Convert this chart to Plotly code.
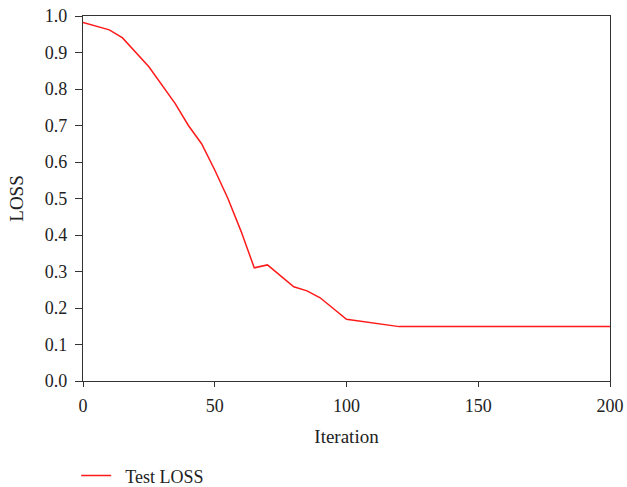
import plotly.graph_objects as go

iterations = [0, 10, 15, 25, 35, 40, 45, 50, 55, 60, 65, 70, 80, 85, 90, 100, 120, 200]
test_loss = [0.982, 0.962, 0.94, 0.861, 0.76, 0.70, 0.65, 0.578, 0.50, 0.41, 0.31, 0.318, 0.258, 0.247, 0.228, 0.169, 0.149, 0.149]

x_ticks = [0, 50, 100, 150, 200]
y_ticks = [0.0, 0.1, 0.2, 0.3, 0.4, 0.5, 0.6, 0.7, 0.8, 0.9, 1.0]

font_family = "Liberation Serif"

fig = go.Figure()
fig.add_trace(go.Scatter(
    x=iterations, y=test_loss, mode="lines", name="\u00a0\u00a0Test LOSS",
    line=dict(color="#ff1a1a", width=1.5),
))

axis_common = dict(
    showgrid=False, zeroline=False, showline=True, mirror=True,
    linecolor="#333333", linewidth=1.2,
    ticks="outside", tickcolor="#333333", tickwidth=1,
    tickfont=dict(family=font_family, size=18, color="#222222"),
)

fig.update_layout(
    width=627, height=487,
    margin=dict(l=83, r=17, t=16, b=106, autoexpand=False),
    paper_bgcolor="white", plot_bgcolor="white",
    font=dict(family=font_family, size=18, color="#222222"),
    xaxis=dict(range=[0, 200], tickvals=x_ticks, ticklen=5, ticklabelstandoff=3,
               title=dict(text="Iteration", font=dict(family=font_family, size=19), standoff=14),
               **axis_common),
    yaxis=dict(range=[0, 1], tickvals=y_ticks, tickformat=".1f", ticklen=7,
               ticklabelstandoff=4,
               title=dict(text="LOSS", font=dict(family=font_family, size=19), standoff=16),
               **axis_common),
    showlegend=True,
    legend=dict(x=-0.013, y=-0.26, xanchor="left", yanchor="middle",
                font=dict(family=font_family, size=18, color="#222222"),
                bgcolor="rgba(0,0,0,0)"),
)

fig.write_html(
    "out.html",
    config={"displayModeBar": False},
    post_script="document.body.style.margin='0';document.body.style.overflow='hidden';",
)
